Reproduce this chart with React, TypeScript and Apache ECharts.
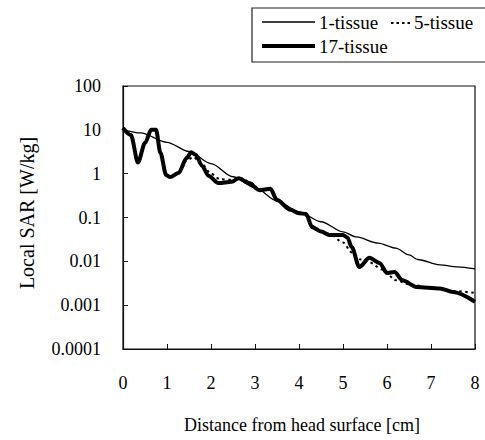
import React, { useEffect, useRef } from "react";
import * as echarts from "echarts";

const FONT = "Times New Roman, Liberation Serif, DejaVu Serif, serif";

// 1-tissue model
const x1 = [0, 0.4, 1.0, 1.5, 2.0, 2.5, 3.0, 3.5, 4.0, 4.5, 5.0, 5.3, 5.8, 6.2, 6.5, 6.7, 7.2, 7.6, 8.0];
const sar1 = [10, 8.5, 5.2, 3.2, 1.7, 0.85, 0.48, 0.24, 0.135, 0.08, 0.047, 0.036, 0.026, 0.02, 0.014, 0.011, 0.0083, 0.0075, 0.0067];

// 5-tissue model
const x5 = [0, 0.18, 0.34, 0.5, 0.64, 0.75, 0.85, 0.98, 1.07, 1.26, 1.45, 1.6, 1.8, 2.0, 2.2, 2.5, 2.7, 2.9, 3.1, 3.35, 3.5, 3.8, 4.0, 4.16, 4.3, 4.5, 4.7, 5.0, 5.2, 5.4, 5.6, 5.9, 6.2, 6.5, 7.0, 7.5, 8.0];
const sar5 = [11, 7.6, 1.9, 5, 10, 10, 3, 0.95, 0.86, 1.05, 2.0, 2.4, 1.6, 1.0, 0.75, 0.72, 0.78, 0.62, 0.45, 0.42, 0.26, 0.155, 0.125, 0.11, 0.065, 0.05, 0.042, 0.027, 0.016, 0.011, 0.0095, 0.0065, 0.0037, 0.003, 0.0025, 0.0021, 0.0019];

// 17-tissue model
const x17 = [0, 0.18, 0.34, 0.5, 0.64, 0.75, 0.85, 0.98, 1.07, 1.26, 1.45, 1.55, 1.65, 1.8, 1.94, 2.17, 2.47, 2.63, 2.86, 3.1, 3.35, 3.5, 3.8, 4.0, 4.16, 4.3, 4.5, 4.69, 5.0, 5.1, 5.2, 5.37, 5.6, 5.83, 6.0, 6.17, 6.35, 6.67, 7.2, 7.5, 8.0];
const sar17 = [11, 7.6, 1.8, 5, 10, 10, 3, 0.93, 0.84, 1.03, 2.3, 3.1, 2.7, 1.5, 0.9, 0.61, 0.65, 0.79, 0.61, 0.42, 0.45, 0.25, 0.15, 0.125, 0.12, 0.06, 0.048, 0.04, 0.04, 0.035, 0.021, 0.0074, 0.012, 0.0092, 0.0054, 0.0057, 0.0037, 0.0026, 0.0024, 0.002, 0.0012];

const yTickLabels = ["0.0001", "0.001", "0.01", "0.1", "1", "10", "100"];
const legendNames = ["1-tissue", "5-tissue", "17-tissue"];
const xTitle = "Distance from head surface [cm]";
const yTitle = "Local SAR [W/kg]";

const zip = (xs: number[], ys: number[]) => xs.map((x, i) => [x, ys[i]]);

export default function App() {
  const ref = useRef<HTMLDivElement>(null);
  useEffect(() => {
    if (!ref.current) return;
    const chart = echarts.init(ref.current, undefined, { renderer: "svg" });
    const textStyle = { fontFamily: FONT, fontSize: 18, fill: "#000" };
    const legendText = { ...textStyle, fontSize: 19, verticalAlign: "middle" };
    chart.setOption({
      animation: false,
      backgroundColor: "#fff",
      textStyle: { fontFamily: FONT },
      grid: {
        left: 123,
        right: 10,
        top: 86,
        bottom: 91,
        show: true,
        borderColor: "#111",
        borderWidth: 1.2,
        backgroundColor: "transparent",
      },
      xAxis: {
        type: "value",
        min: 0,
        max: 8,
        interval: 1,
        axisLine: { show: true, onZero: false, lineStyle: { color: "#111", width: 1.2 } },
        axisTick: { show: true, inside: true, length: 5, lineStyle: { color: "#111" } },
        splitLine: { show: false },
        axisLabel: { margin: 25, color: "#000", fontFamily: FONT, fontSize: 18 },
      },
      yAxis: {
        type: "log",
        logBase: 10,
        min: 0.0001,
        max: 100,
        axisLine: { show: true, lineStyle: { color: "#111", width: 1.2 } },
        axisTick: { show: true, inside: true, length: 5, lineStyle: { color: "#111" } },
        splitLine: { show: false },
        minorTick: { show: false },
        axisLabel: {
          margin: 22,
          color: "#000",
          fontFamily: FONT,
          fontSize: 18,
          formatter: (v: number) => yTickLabels[Math.round(Math.log10(v)) + 4] ?? "",
        },
      },
      graphic: [
        {
          type: "text",
          x: 302,
          y: 425,
          style: { ...textStyle, text: xTitle, align: "center", verticalAlign: "middle" },
        },
        {
          type: "text",
          x: 27,
          y: 213,
          rotation: Math.PI / 2,
          style: { ...textStyle, fontSize: 20, text: yTitle, align: "center", verticalAlign: "middle" },
        },
        {
          type: "rect",
          shape: { x: 252, y: 8, width: 260, height: 54 },
          style: { fill: "#fff", stroke: "#222", lineWidth: 1.2 },
        },
        {
          type: "line",
          shape: { x1: 262, y1: 22, x2: 315, y2: 22 },
          style: { stroke: "#000", lineWidth: 1.3 },
        },
        {
          type: "text",
          x: 319,
          y: 22,
          style: { ...legendText, text: legendNames[0] },
        },
        {
          type: "line",
          shape: { x1: 391, y1: 23, x2: 412, y2: 23 },
          style: { stroke: "#000", lineWidth: 2, lineDash: [2.5, 3] },
        },
        {
          type: "text",
          x: 414,
          y: 22,
          style: { ...legendText, text: legendNames[1] },
        },
        {
          type: "line",
          shape: { x1: 262, y1: 46, x2: 315, y2: 46 },
          style: { stroke: "#000", lineWidth: 4 },
        },
        {
          type: "text",
          x: 319,
          y: 46,
          style: { ...legendText, text: legendNames[2] },
        },
      ],
      series: [
        {
          name: legendNames[2],
          type: "line",
          data: zip(x17, sar17),
          showSymbol: false,
          smooth: 0.3,
          smoothMonotone: "x",
          lineStyle: { color: "#000", width: 4 },
        },
        {
          name: legendNames[1],
          type: "line",
          data: zip(x5, sar5),
          showSymbol: false,
          smooth: 0.3,
          smoothMonotone: "x",
          lineStyle: { color: "#000", width: 2, type: [2.5, 3.5] },
        },
        {
          name: legendNames[0],
          type: "line",
          data: zip(x1, sar1),
          showSymbol: false,
          smooth: 0.3,
          smoothMonotone: "x",
          lineStyle: { color: "#000", width: 1.3 },
        },
      ],
    });
    return () => chart.dispose();
  }, []);
  return (
    <div
      ref={ref}
      style={{ position: "fixed", left: 0, top: 0, width: 485, height: 440, background: "#fff" }}
    />
  );
}
